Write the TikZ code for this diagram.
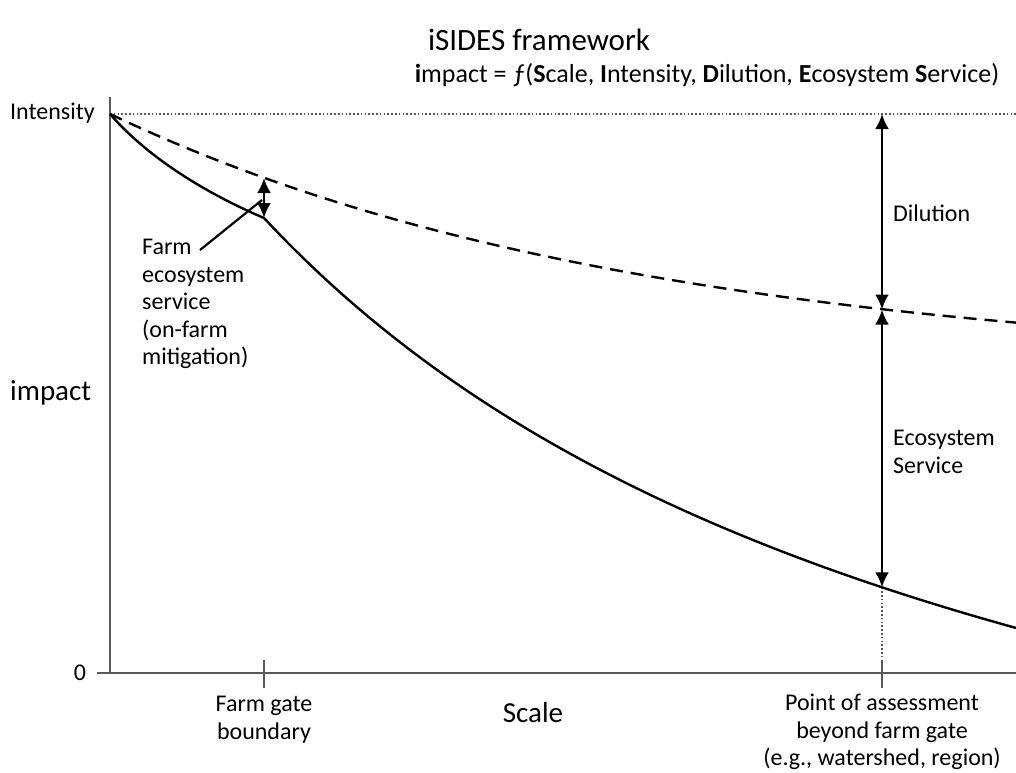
\documentclass[tikz,border=0pt]{standalone}
\usepackage{fontspec}
\setmainfont{Carlito}
\usetikzlibrary{arrows.meta}
\definecolor{axisgray}{HTML}{595959}
\begin{document}
\begin{tikzpicture}[x=1pt,y=-1pt,
  axisline/.style={draw=axisgray,line width=2.4pt},
  curve/.style={draw=black,line width=2.4pt},
  dotline/.style={draw=axisgray,line width=1.6pt,dash pattern=on 1.6pt off 2.2pt},
  dblarrow/.style={draw=black,line width=2.6pt,{Latex[length=15pt,width=14pt]}-{Latex[length=15pt,width=14pt]}},
  lbl/.style={inner sep=0pt,font=\fontsize{24}{27.5}\selectfont},
  biglbl/.style={inner sep=0pt,font=\fontsize{29}{34}\selectfont}
]
\useasboundingbox (0,0) rectangle (1016,772);
% key coordinates
\coordinate (origin) at (110,673);
\coordinate (ytop) at (110,97);
\coordinate (xleft) at (97,673);
\coordinate (xright) at (1016,673);
\coordinate (start) at (110,114);
\coordinate (topright) at (1016,114);
\coordinate (gateDash) at (264,178);
\coordinate (gateSolid) at (264,218);
\coordinate (gateTickTop) at (264,660);
\coordinate (gateTickBot) at (264,688);
\coordinate (assTop) at (882,114);
\coordinate (assDash) at (882,309.5);
\coordinate (assSolid) at (882,587.3);
\coordinate (assTickTop) at (882,660);
\coordinate (assTickBot) at (882,688);
\coordinate (pointerEnd) at (262,200);
\coordinate (pointerStart) at (200,250);
% axes
\draw[axisline] (ytop) -- (origin) -- (xright);
\draw[axisline] (xleft) -- (origin);
\draw[axisline] (gateTickTop) -- (gateTickBot);
\draw[axisline] (assTickTop) -- (assTickBot);
% dotted lines
\draw[dotline] (start) -- (topright);
\draw[dotline] (assSolid) -- (assTickTop);
% dashed curve
\draw[curve,dash pattern=on 13pt off 8pt] plot[domain=110:1016,samples=80] (\x,{114+256*(1-exp(-0.001868*(\x-110)))});
% solid curve
\draw[curve,line join=miter] (start) .. controls (150,160) and (210,195) .. (gateSolid)
  -- plot[domain=264:1016,samples=80] (\x,{218+833*((\x-264)/(\x+512))});
% double arrows
\draw[dblarrow] (gateDash) -- (gateSolid);
\draw[dblarrow] (assTop) -- (assDash);
\draw[dblarrow] (assDash) -- (assSolid);
% pointer
\draw[black,line width=2.2pt] (pointerStart) -- (pointerEnd);
% texts
\node[inner sep=0pt,font=\fontsize{31}{36}\selectfont] (title) at (539,40) {iSIDES framework};
\node[inner sep=0pt,font=\fontsize{26}{30}\selectfont] (subtitle) at (707,75) {\textbf{i}mpact = ƒ(\textbf{S}cale, \textbf{I}ntensity, \textbf{D}ilution, \textbf{E}cosystem \textbf{S}ervice)};
\node[lbl,anchor=west] (intensity) at (10,113) {Intensity};
\node[lbl] (zero) at (80,673) {0};
\node[biglbl,anchor=west] (impact) at (10,393) {impact};
\node[biglbl] (scale) at (533,713) {Scale};
\node[lbl,align=center,anchor=north] (gate) at (264,696) {Farm gate\\boundary};
\node[lbl,align=center,anchor=north] (assess) at (882,694) {Point of assessment\\beyond farm gate\\(e.g., watershed, region)};
\node[lbl,anchor=west] (dilution) at (893,213) {Dilution};
\node[lbl,align=left,anchor=west] (ecoserv) at (893,452) {Ecosystem\\Service};
\node[lbl,align=left,anchor=north west] (farmes) at (142,239) {Farm\\ecosystem\\service\\(on-farm\\mitigation)};
\end{tikzpicture}
\end{document}
